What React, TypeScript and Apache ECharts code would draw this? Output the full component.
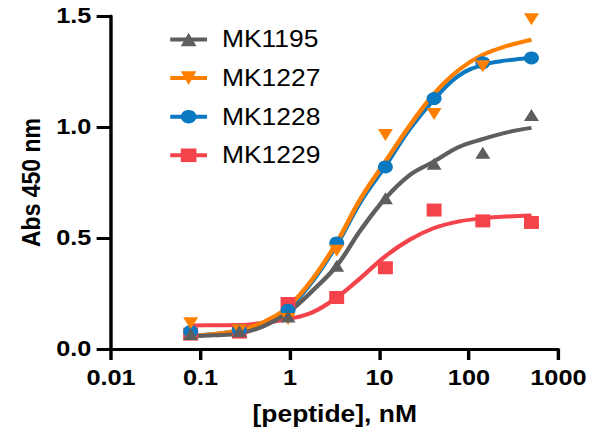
import React, { useEffect, useRef } from "react";
import * as echarts from "echarts";

// Concentrations of the measured points (nM)
const concentrations = [0.0777, 0.272, 0.952, 3.33, 11.66, 40.8, 142.9, 500];

// Measured absorbances
const mk1195 = [0.068, 0.080, 0.146, 0.375, 0.679, 0.835, 0.884, 1.054];
const mk1227 = [0.116, 0.085, 0.135, 0.443, 0.964, 1.058, 1.274, 1.485];
const mk1228 = [0.079, 0.085, 0.175, 0.478, 0.820, 1.128, 1.289, 1.311];
const mk1229 = [0.067, 0.076, 0.205, 0.232, 0.366, 0.626, 0.577, 0.570];

// Fitted curves
const curveX = [0.0777, 0.144, 0.272, 0.51, 0.952, 1.78, 3.33, 6.2, 11.66, 21.7, 40.8, 76, 142.9, 267, 500];
const fit1195 = [0.058, 0.062, 0.070, 0.103, 0.165, 0.262, 0.375, 0.537, 0.679, 0.783, 0.845, 0.909, 0.946, 0.976, 0.996];
const fit1227 = [0.060, 0.068, 0.085, 0.122, 0.190, 0.314, 0.480, 0.679, 0.844, 1.005, 1.150, 1.255, 1.325, 1.365, 1.393];
const fit1228 = [0.060, 0.068, 0.085, 0.120, 0.185, 0.305, 0.470, 0.665, 0.825, 0.990, 1.125, 1.230, 1.280, 1.300, 1.311];
const fit1229 = [0.106, 0.107, 0.108, 0.118, 0.135, 0.165, 0.232, 0.321, 0.418, 0.492, 0.545, 0.574, 0.589, 0.597, 0.601];

const seriesNames = ["MK1195", "MK1227", "MK1228", "MK1229"];
const xTickLabels = ["0.01", "0.1", "1", "10", "100", "1000"];

const points = [mk1195, mk1227, mk1228, mk1229];
const fits = [fit1195, fit1227, fit1228, fit1229];
const colors = ["#5e5e5e", "#ff7f00", "#0a79c1", "#f4434b"];
const symbols = ["triangle", "path://M0,0L2,0L1,1.732Z", "circle", "rect"];
const symbolSizes: any[] = [[13, 12], [13, 12], 13, 13];

const FONT = "'Liberation Sans', Arial, Helvetica, sans-serif";
const W = 513;
const H = 431;
const SX = 590 / W;

export default function App() {
  const ref = useRef<HTMLDivElement>(null);
  useEffect(() => {
    if (!ref.current) return;
    const chart = echarts.init(ref.current, undefined, { renderer: "svg", width: W, height: H });
    const drawOrder = [3, 2, 1, 0];
    const lineSeries = drawOrder.map((i) => ({
      name: seriesNames[i],
      type: "line",
      data: curveX.map((x, k) => [x, fits[i][k]]),
      smooth: 0.4,
      symbol: symbols[i],
      symbolSize: symbolSizes[i],
      showSymbol: false,
      color: colors[i],
      lineStyle: { color: colors[i], width: 4 },
      itemStyle: { color: colors[i] },
      z: 2,
    }));
    const scatterSeries = drawOrder.map((i) => ({
      name: seriesNames[i] + " data",
      type: "scatter",
      data: concentrations.map((x, k) => [x, points[i][k]]),
      symbol: symbols[i],
      symbolSize: symbolSizes[i],
      itemStyle: { color: colors[i], opacity: 1 },
      z: 3,
    }));
    chart.setOption({
      animation: false,
      grid: { left: 96.5, right: W - 486.1, top: 16, bottom: H - 352, containLabel: false },
      legend: {
        data: seriesNames,
        orient: "vertical",
        left: 141,
        top: 23,
        itemWidth: 32,
        itemHeight: 17,
        itemGap: 15.6,
        lineStyle: { width: 4 },
        textStyle: { fontFamily: FONT, fontSize: 23, color: "#000", lineHeight: 23, padding: [0, 0, 0, 8] },
        selectedMode: false,
      },
      xAxis: {
        type: "log",
        logBase: 10,
        min: 0.01,
        max: 1000,
        name: "[peptide], nM",
        nameLocation: "middle",
        nameGap: 54,
        nameTextStyle: { fontFamily: FONT, fontSize: 23, fontWeight: "bold", color: "#000" },
        axisLine: { show: true, onZero: false, lineStyle: { color: "#000", width: 3 } },
        axisTick: { show: true, length: 11, lineStyle: { color: "#000", width: 3 } },
        minorTick: { show: false },
        splitLine: { show: false },
        axisLabel: {
          fontFamily: FONT,
          fontSize: 22,
          fontWeight: "bold",
          color: "#000",
          margin: 18,
          formatter: (v: number) => xTickLabels[Math.round(Math.log10(v)) + 2] ?? "",
        },
      },
      yAxis: {
        type: "value",
        min: 0,
        max: 1.5,
        interval: 0.5,
        name: "Abs 450 nm",
        nameLocation: "middle",
        nameGap: 57,
        nameTextStyle: { fontFamily: FONT, fontSize: 23, fontWeight: "bold", color: "#000" },
        axisLine: { show: true, onZero: false, lineStyle: { color: "#000", width: 3 } },
        axisTick: { show: true, length: 12.5, lineStyle: { color: "#000", width: 3 } },
        splitLine: { show: false },
        axisLabel: {
          fontFamily: FONT,
          fontSize: 22,
          fontWeight: "bold",
          color: "#000",
          margin: 17,
          formatter: (v: number) => v.toFixed(1),
        },
      },
      series: [...lineSeries, ...scatterSeries],
    });
    return () => chart.dispose();
  }, []);
  return (
    <div
      style={{
        position: "absolute",
        left: 0,
        top: 0,
        width: W,
        height: H,
        transform: `scaleX(${SX})`,
        transformOrigin: "0 0",
        background: "#fff",
      }}
    >
      <div ref={ref} style={{ width: W, height: H }} />
    </div>
  );
}
